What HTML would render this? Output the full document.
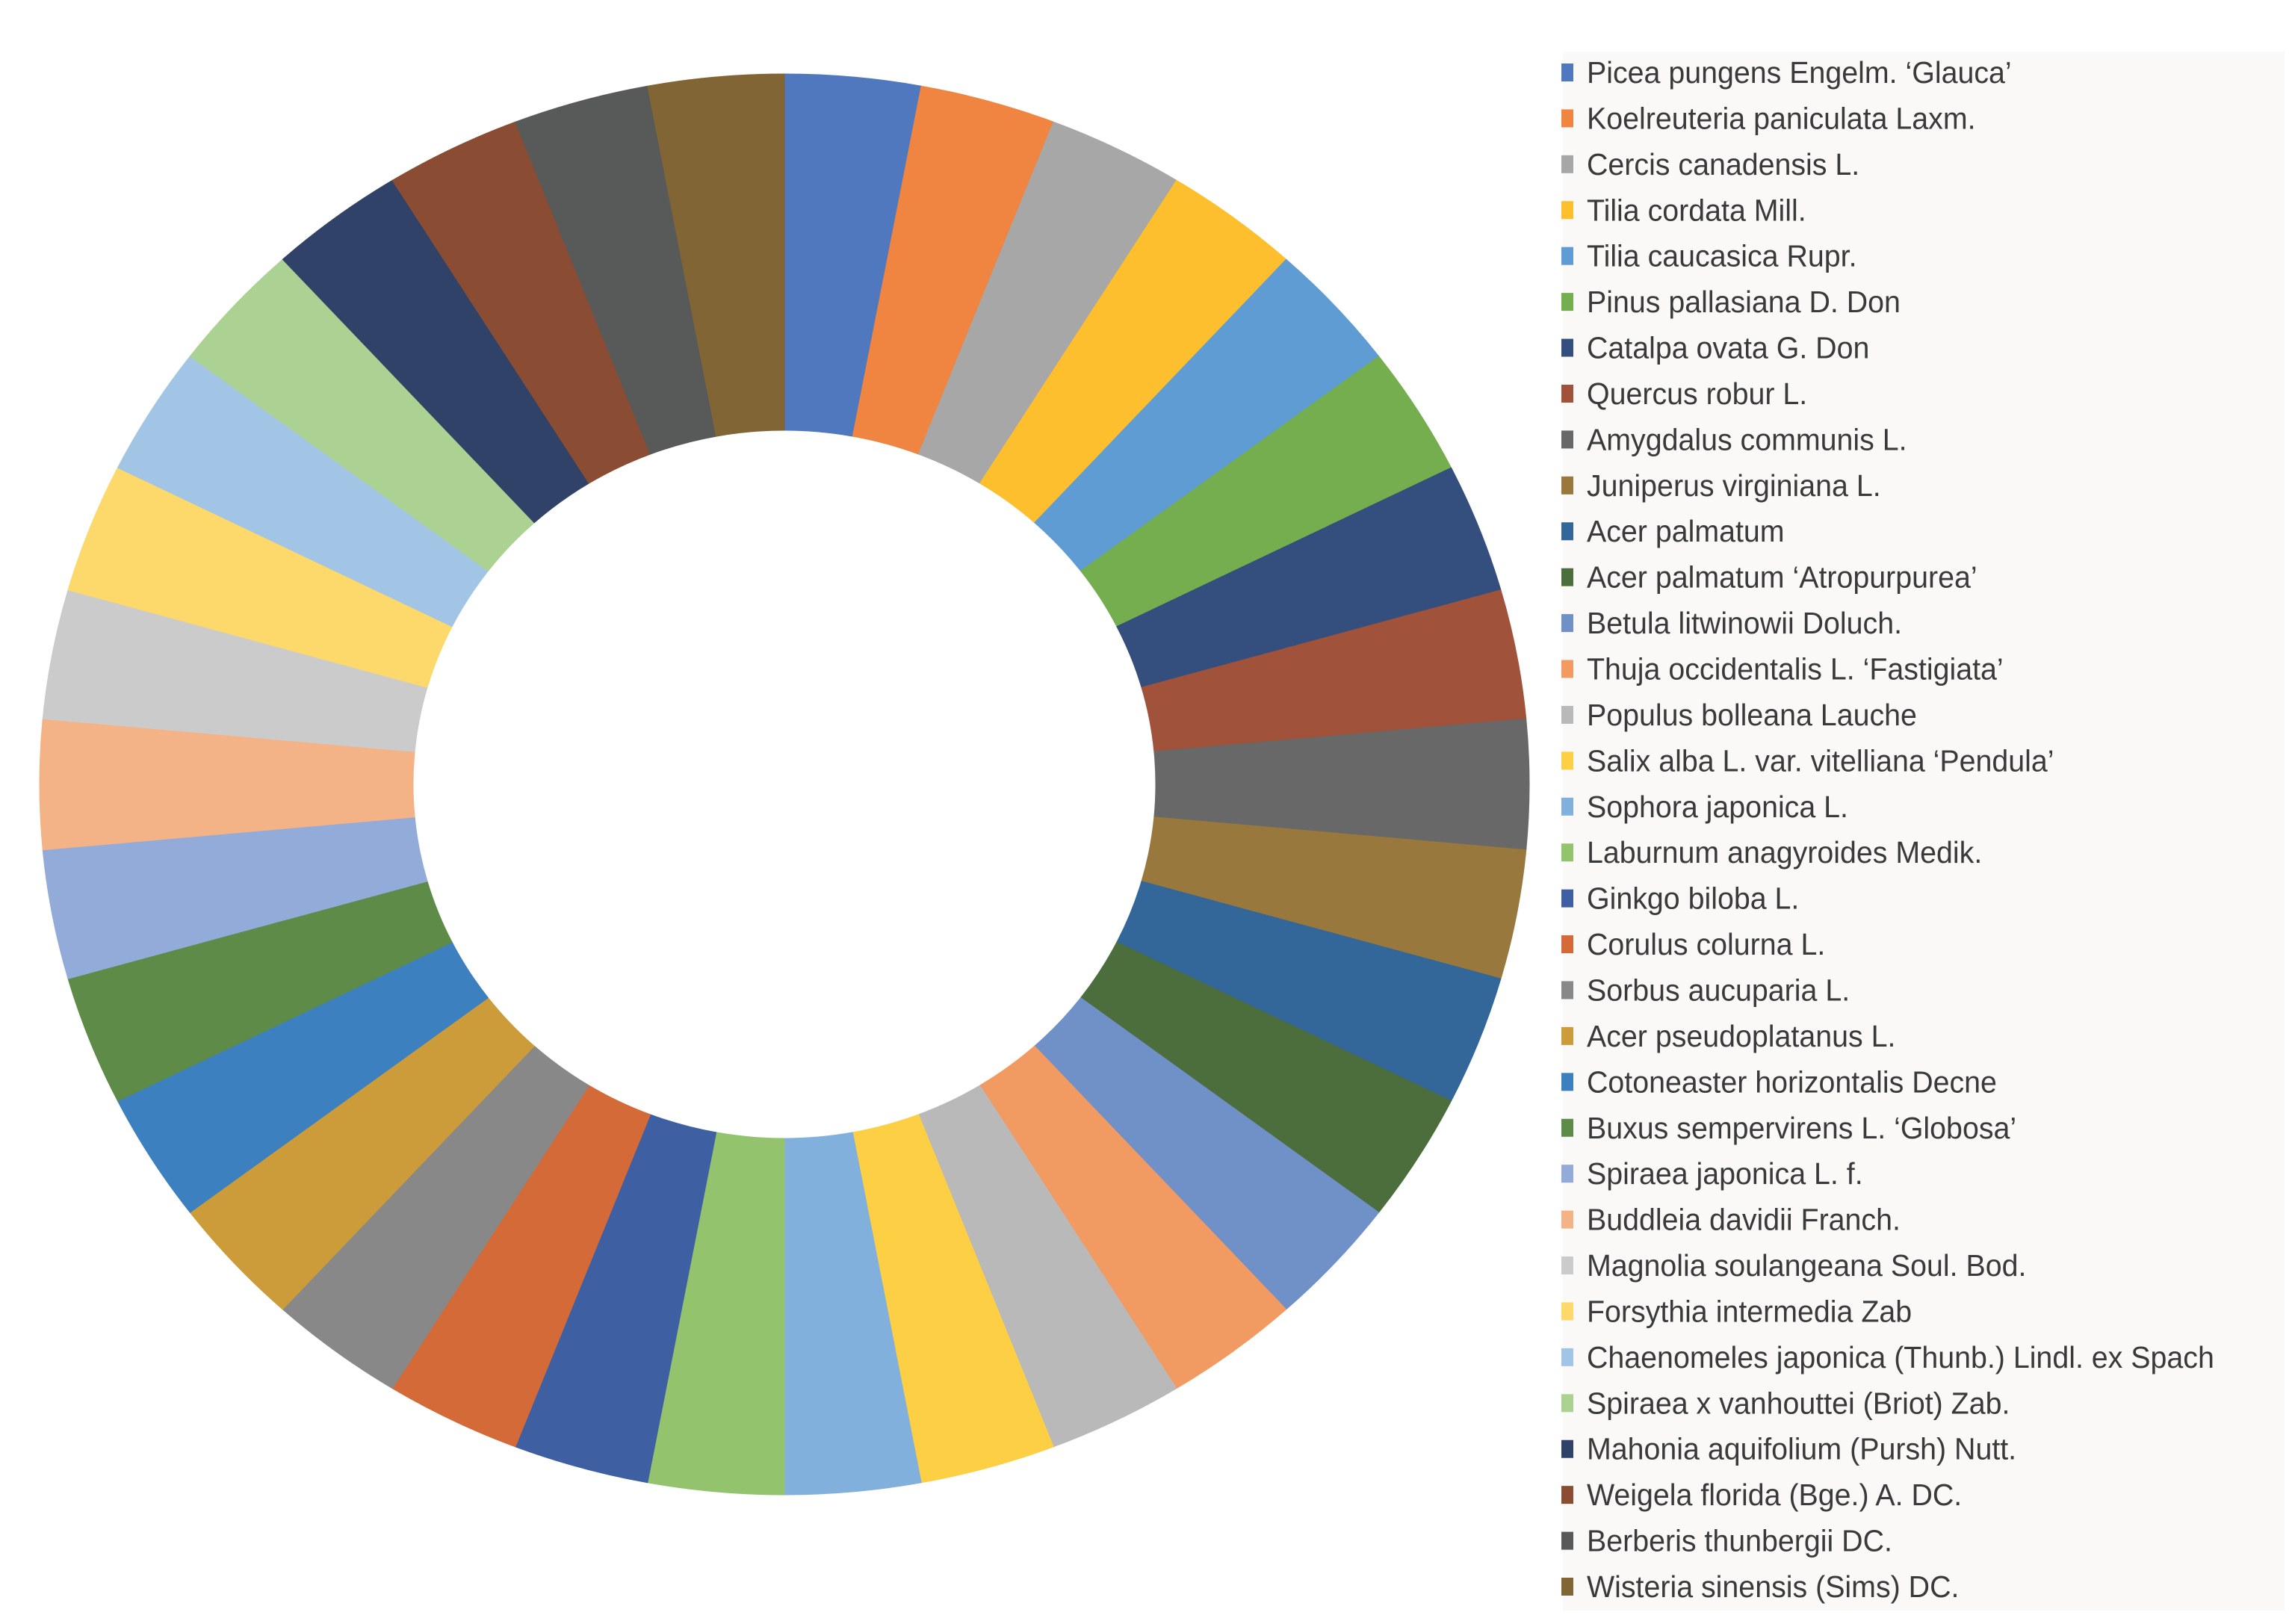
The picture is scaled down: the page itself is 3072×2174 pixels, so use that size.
<!DOCTYPE html>
<html><head><meta charset="utf-8"><style>
html,body{margin:0;padding:0;background:#fff;}
svg{display:block;}
</style></head><body>
<svg id="chart" width="3072" height="2174" viewBox="0 0 3072 2174" xmlns="http://www.w3.org/2000/svg">
<rect x="0" y="0" width="3072" height="2174" fill="#ffffff"/>
<g id="slices"></g>
<rect x="2092" y="69" width="966" height="2087" fill="#faf9f7"/>
<g id="legend"></g>
</svg>
<script>
const categories = ["Picea pungens Engelm. ‘Glauca’","Koelreuteria paniculata Laxm.","Cercis canadensis L.","Tilia cordata Mill.","Tilia caucasica Rupr.","Pinus pallasiana D. Don","Catalpa ovata G. Don","Quercus robur L.","Amygdalus communis L.","Juniperus virginiana L.","Acer palmatum","Acer palmatum ‘Atropurpurea’","Betula litwinowii Doluch.","Thuja occidentalis L. ‘Fastigiata’","Populus bolleana Lauche","Salix alba L. var. vitelliana ‘Pendula’","Sophora japonica L.","Laburnum anagyroides Medik.","Ginkgo biloba L.","Corulus colurna L.","Sorbus aucuparia L.","Acer pseudoplatanus L.","Cotoneaster horizontalis Decne","Buxus sempervirens L. ‘Globosa’","Spiraea japonica L. f.","Buddleia davidii Franch.","Magnolia soulangeana Soul. Bod.","Forsythia intermedia Zab","Chaenomeles japonica (Thunb.) Lindl. ex Spach","Spiraea x vanhouttei (Briot) Zab.","Mahonia aquifolium (Pursh) Nutt.","Weigela florida (Bge.) A. DC.","Berberis thunbergii DC.","Wisteria sinensis (Sims) DC."];
const values = [1,1,1,1,1,1,1,1,1,1,1,1,1,1,1,1,1,1,1,1,1,1,1,1,1,1,1,1,1,1,1,1,1,1];
const colors = ["#5078be","#ef8540","#a7a7a7","#fdbf2d","#5f9cd3","#74ae4e","#344e7d","#a0533a","#686868","#98783c","#336699","#4c6e3d","#7090c8","#f19a62","#b9b9b9","#fccf44","#82b0dc","#93c36d","#3e60a2","#d46a38","#888888","#cc9c3a","#3c80c0","#5e8b48","#92abd8","#f4b387","#cbcbcb","#fcd96a","#a2c5e6","#acd293","#304268","#8a4c33","#585a5a","#826535"];
const cx=1050, cy=1050, rxO=997, ryO=951, rxI=497, ryI=474;
const NS="http://www.w3.org/2000/svg";
const total = values.reduce((a,b)=>a+b,0);
function pt(a,rx,ry){return [cx+rx*Math.sin(a), cy-ry*Math.cos(a)];}
const sg=document.getElementById('slices');
let acc=0;
values.forEach((v,i)=>{
  const a0=acc/total*2*Math.PI; acc+=v; const a1=acc/total*2*Math.PI;
  const large=(a1-a0)>Math.PI?1:0;
  const p0=pt(a0,rxO,ryO),p1=pt(a1,rxO,ryO),q1=pt(a1,rxI,ryI),q0=pt(a0,rxI,ryI);
  const p=document.createElementNS(NS,'path');
  p.setAttribute('d',`M${p0[0]},${p0[1]}A${rxO},${ryO} 0 ${large} 1 ${p1[0]},${p1[1]}L${q1[0]},${q1[1]}A${rxI},${ryI} 0 ${large} 0 ${q0[0]},${q0[1]}Z`);
  p.setAttribute('fill',colors[i]);
  p.setAttribute('stroke',colors[i]);
  p.setAttribute('stroke-width','1');
  
  
  sg.appendChild(p);
});
const lg=document.getElementById('legend');
const y0=97, step=(2124-97)/(categories.length-1);
categories.forEach((c,i)=>{
  const y=y0+i*step;
  const g=document.createElementNS(NS,'g');
  
  
  const r=document.createElementNS(NS,'rect');
  r.setAttribute('x',2090); r.setAttribute('y',y-12); r.setAttribute('width',16); r.setAttribute('height',24);
  r.setAttribute('fill',colors[i]);
  
  
  g.appendChild(r);
  const t=document.createElementNS(NS,'text');
  t.setAttribute('transform',`translate(2124,${y+14}) scale(0.96,1)`);
  t.setAttribute('font-family','"Liberation Sans", sans-serif');
  t.setAttribute('font-size','41');
  t.setAttribute('fill','#3a3a3a');
  t.textContent=c;
  
  
  g.appendChild(t);
  lg.appendChild(g);
});
</script>
</body></html>
